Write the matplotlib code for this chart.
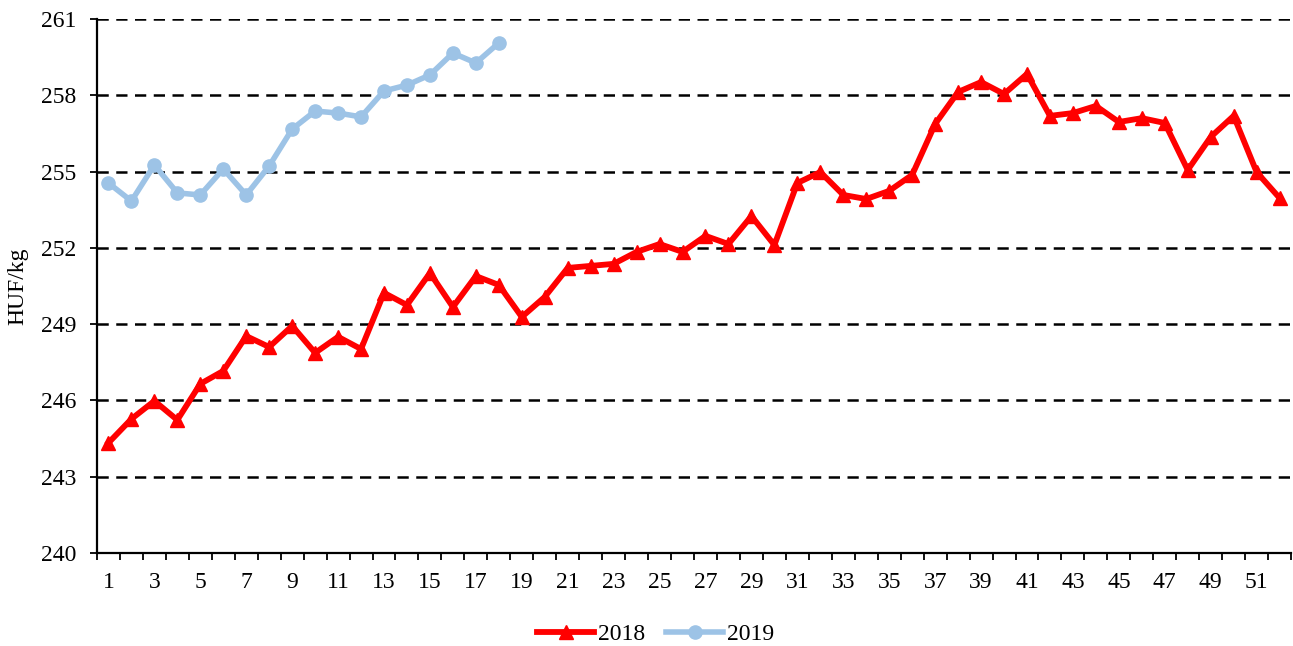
import matplotlib.pyplot as plt
import numpy as np

# weekly prices, HUF/kg
weeks_2018 = list(range(1, 53))
price_2018 = [244.33, 245.27, 245.98, 245.23, 246.65, 247.16, 248.53, 248.10, 248.93, 247.87,
              248.50, 248.02, 250.23, 249.75, 251.01, 249.67, 250.89, 250.54, 249.28, 250.07,
              251.21, 251.29, 251.37, 251.84, 252.15, 251.84, 252.47, 252.15, 253.25, 252.11,
              254.55, 254.98, 254.08, 253.92, 254.24, 254.87, 256.87, 258.13, 258.52, 258.05,
              258.84, 257.19, 257.30, 257.58, 256.95, 257.10, 256.91, 255.06, 256.36, 257.19,
              254.98, 253.96]

weeks_2019 = list(range(1, 19))
price_2019 = [254.55, 253.84, 255.26, 254.16, 254.08, 255.10, 254.08, 255.22, 256.67, 257.38,
              257.30, 257.15, 258.17, 258.40, 258.80, 259.66, 259.27, 260.06]

y_ticks = [240, 243, 246, 249, 252, 255, 258, 261]
x_labels = list(range(1, 53, 2))

plt.rcParams["font.family"] = ["Liberation Serif", "DejaVu Serif"]

fig = plt.figure(figsize=(12.93, 6.46), dpi=100)
ax = fig.add_axes([0.075, 0.144, 0.9235, 0.8266])

for y in y_ticks[1:]:
    ax.axhline(y, color="black", linewidth=1.8, linestyle=(0, (4.5, 3)), zorder=1)

ax.plot(weeks_2018, price_2018, color="#ff0000", linewidth=4.2, marker="^",
        markersize=10.5, label="2018", zorder=3, solid_joinstyle="miter")
ax.plot(weeks_2019, price_2019, color="#9dc3e6", linewidth=4.0, marker="o",
        markersize=9.5, label="2019", zorder=3)

ax.set_xlim(0.5, 52.5)
ax.set_ylim(240, 261)
ax.set_yticks(y_ticks)
ax.set_xticks(x_labels)
ax.set_xticks(np.arange(0.5, 53, 1), minor=True)
ax.tick_params(axis="x", which="major", length=0, pad=14, labelsize=17)
ax.tick_params(axis="x", which="minor", length=5, width=1.3, direction="out")
ax.tick_params(axis="y", length=5, width=1.3, direction="out", labelsize=17, pad=10)

for side in ["top", "right"]:
    ax.spines[side].set_visible(False)
for side in ["left", "bottom"]:
    ax.spines[side].set_linewidth(1.6)

ax.set_ylabel("HUF/kg", fontsize=17, va="center")
ax.yaxis.set_label_coords(-0.066, 0.5)

ax.legend(loc="center", bbox_to_anchor=(0.468, -0.153), ncol=2, frameon=False,
          fontsize=17, handlelength=2.4, columnspacing=0.9, handletextpad=0.17)

fig.savefig("out.png", dpi=100)
